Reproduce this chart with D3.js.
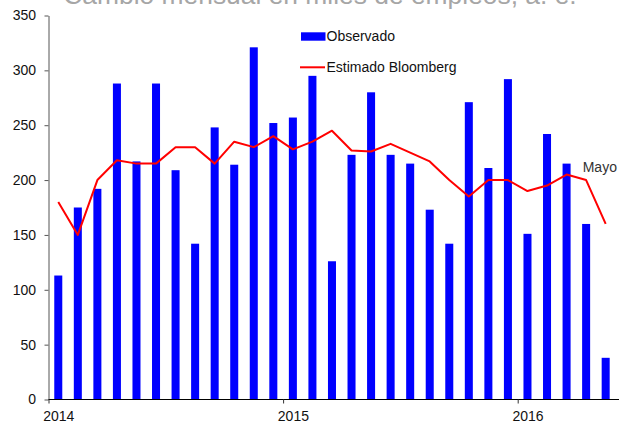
<!DOCTYPE html>
<html>
<head>
<meta charset="utf-8">
<script src="https://cdn.jsdelivr.net/npm/d3@7"></script>
<style>
  html, body { margin: 0; padding: 0; background: #fff; }
  svg { display: block; font-family: "Liberation Sans", Arial, sans-serif; }
</style>
</head>
<body>
<svg id="chart" width="619" height="421"></svg>
<script>
// Monthly payroll change, thousands of jobs (Jan 2014 – May 2016)
const months = [
  "2014-01","2014-02","2014-03","2014-04","2014-05","2014-06",
  "2014-07","2014-08","2014-09","2014-10","2014-11","2014-12",
  "2015-01","2015-02","2015-03","2015-04","2015-05","2015-06",
  "2015-07","2015-08","2015-09","2015-10","2015-11","2015-12",
  "2016-01","2016-02","2016-03","2016-04","2016-05"
];
const observado = [113,175,192,288,217,288,209,142,248,214,321,252,
                   257,295,126,223,280,223,215,173,142,271,211,292,
                   151,242,215,160,38];
const estimado  = [180,150,200,218,215,215,230,230,215,235,230,240,
                   228,235,245,227,226,233,225,217,200,185,200,200,
                   190,195,205,200,160];
const yearLabels = ["2014","2015","2016"];
const yTicks = [0,50,100,150,200,250,300,350];

const svg = d3.select("#chart");
const W = 619;

// month index scale: each month occupies one slot, bars sit in the slot centre
const x = d3.scaleLinear().domain([0, months.length]).range([48.5, 48.5 + 19.55 * months.length]);
const step = x(1) - x(0);
const barW = step * 0.41;
const y = d3.scaleLinear().domain([0, 350]).range([399.5, 15.5]);

// title (partly above the top edge)
svg.append("text")
  .attr("x", 320).attr("y", 4)
  .attr("text-anchor", "middle")
  .attr("font-size", 26.4)
  .attr("fill", "#a6a6a6")
  .text("Cambio mensual en miles de empleos, a. e.");

// bars
svg.append("g").selectAll("rect")
  .data(observado)
  .join("rect")
  .attr("x", (d, i) => x(i + 0.5) - barW / 2)
  .attr("width", barW)
  .attr("y", d => y(d))
  .attr("height", d => y(0) - y(d))
  .attr("fill", "#0000ff");

// Bloomberg consensus line
svg.append("path")
  .datum(estimado)
  .attr("fill", "none")
  .attr("stroke", "#ff0000")
  .attr("stroke-width", 2)
  .attr("stroke-linejoin", "round")
  .attr("d", d3.line().x((d, i) => x(i + 0.5)).y(d => y(d)));

// y axis
const yAxis = svg.append("g")
  .attr("transform", `translate(${x(0)},0)`)
  .call(d3.axisLeft(y).tickValues(yTicks).tickSize(4).tickPadding(8.5).tickSizeOuter(0));
yAxis.select(".domain").attr("stroke", "#555");
yAxis.selectAll(".tick line").attr("stroke", "#555");
yAxis.selectAll(".tick text")
  .attr("font-size", 14)
  .attr("font-family", "Liberation Sans, Arial, sans-serif")
  .attr("fill", "#111");

// x axis: ticks at year boundaries, labels over January
const yearIdx = yearLabels.map((d, k) => 12 * k);
const xAxis = svg.append("g")
  .attr("transform", `translate(0,${y(0)})`)
  .call(d3.axisBottom(x).tickValues(yearIdx).tickSize(4).tickSizeOuter(0)
        .tickFormat((d, k) => yearLabels[k]));
xAxis.select(".domain").attr("d", `M${x(0)},0H${W}`).attr("stroke", "#000");
xAxis.selectAll(".tick line").attr("stroke", "#333");
xAxis.selectAll(".tick text")
  .attr("font-size", 14)
  .attr("font-family", "Liberation Sans, Arial, sans-serif")
  .attr("fill", "#111")
  .attr("dy", 0)
  .attr("y", 21.5)
  .attr("x", step / 2);

// legend
const lg = svg.append("g").attr("font-size", 14).attr("fill", "#111");
lg.append("rect").attr("x", 301).attr("y", 32.3).attr("width", 24.5).attr("height", 8.4).attr("fill", "#0000ff");
lg.append("text").attr("x", 326.5).attr("y", 40.7).text("Observado");
lg.append("line").attr("x1", 300).attr("x2", 325).attr("y1", 67.3).attr("y2", 67.3)
  .attr("stroke", "#ff0000").attr("stroke-width", 2);
lg.append("text").attr("x", 326.5).attr("y", 72.3).text("Estimado Bloomberg");

// annotation for the latest month
svg.append("text")
  .attr("x", 582.7).attr("y", 171.5)
  .attr("font-size", 14)
  .attr("fill", "#333")
  .text("Mayo");
</script>
</body>
</html>
